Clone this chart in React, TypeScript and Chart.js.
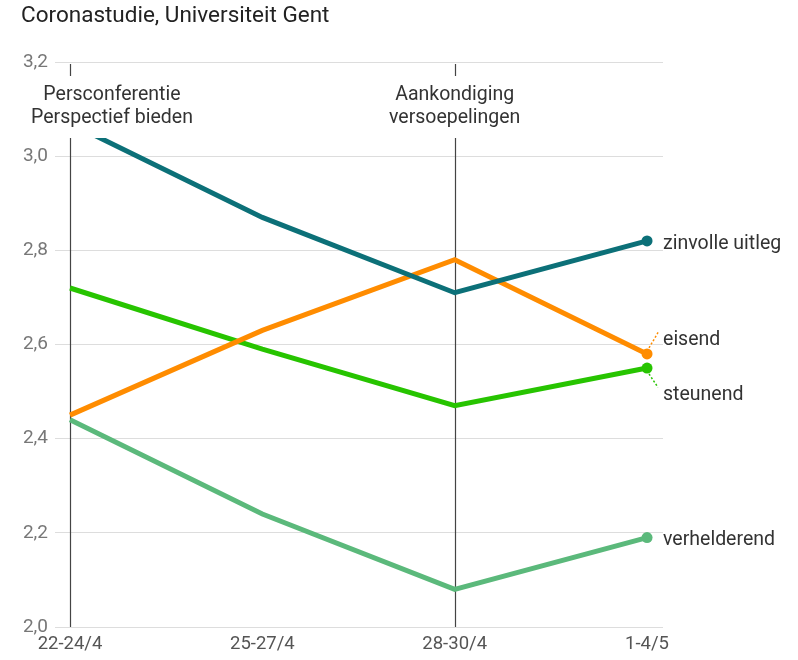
import React, { useEffect, useRef } from 'react';
import { Chart, registerables } from 'chart.js';

Chart.register(...registerables);

const chartTitle = 'Coronastudie, Universiteit Gent';
const categories = ['22-24/4', '25-27/4', '28-30/4', '1-4/5'];
const seriesNames = ['zinvolle uitleg', 'eisend', 'steunend', 'verhelderend'];
const zinvolleUitleg = [3.07, 2.87, 2.71, 2.82];
const eisend = [2.45, 2.63, 2.78, 2.58];
const steunend = [2.72, 2.59, 2.47, 2.55];
const verhelderend = [2.44, 2.24, 2.08, 2.19];
const yTickValues = [2.0, 2.2, 2.4, 2.6, 2.8, 3.0, 3.2];
const eventCategoryIndex = [0, 2];
const eventLabels = [
  ['Persconferentie', 'Perspectief bieden'],
  ['Aankondiging', 'versoepelingen'],
];

const seriesColors = ['#0c7078', '#ff8c00', '#27c400', '#5bb97b'];
const FONT = 'Roboto, "Noto Sans", sans-serif';

const overlayPlugin = {
  id: 'overlay',
  beforeDatasetsDraw(chart: any) {
    const { ctx, chartArea, scales } = chart;
    ctx.save();
    ctx.strokeStyle = '#444444';
    ctx.lineWidth = 1.2;
    eventCategoryIndex.forEach((ci) => {
      const x = Math.round(scales.x.getPixelForValue(ci)) + 0.5;
      ctx.beginPath();
      ctx.moveTo(x, chartArea.top + 2);
      ctx.lineTo(x, chartArea.bottom);
      ctx.stroke();
    });
    ctx.restore();
  },
  afterDatasetsDraw(chart: any) {
    const { ctx, chartArea, scales } = chart;
    ctx.save();
    // event annotations with white boxes
    ctx.font = `19.5px ${FONT}`;
    ctx.textAlign = 'center';
    ctx.textBaseline = 'middle';
    eventCategoryIndex.forEach((ci, k) => {
      const x = scales.x.getPixelForValue(ci);
      const lines = eventLabels[k];
      const w = Math.max(...lines.map((l) => ctx.measureText(l).width));
      let left = x - w / 2;
      if (left < 31) left = 31;
      const cx = left + w / 2;
      const boxTop = chartArea.top + 14;
      const boxH = 62;
      ctx.fillStyle = '#ffffff';
      ctx.fillRect(left - 4, boxTop, w + 8, boxH);
      ctx.fillStyle = '#333333';
      lines.forEach((l, i) => {
        ctx.fillText(l, cx, boxTop + 19 + i * 23);
      });
    });

    // end labels
    const items: any[] = chart.data.datasets.map((ds: any, i: number) => {
      const meta = chart.getDatasetMeta(i);
      const pt = meta.data[meta.data.length - 1];
      return { name: seriesNames[i], color: seriesColors[i], px: pt.x, py: pt.y, ly: pt.y };
    });
    const sorted = [...items].sort((a, b) => a.py - b.py);
    const minGap = 55;
    for (let i = 1; i < sorted.length; i++) {
      const a = sorted[i - 1];
      const b = sorted[i];
      if (b.ly - a.ly < minGap) {
        const mid = (a.ly + b.ly) / 2 + 4;
        a.ly = mid - minGap / 2;
        b.ly = mid + minGap / 2;
      }
    }
    ctx.font = `19.5px ${FONT}`;
    ctx.textAlign = 'left';
    ctx.textBaseline = 'middle';
    items.forEach((it) => {
      const shifted = Math.abs(it.ly - it.py) > 3;
      if (shifted) {
        const dir = it.ly > it.py ? 1 : -1;
        ctx.save();
        ctx.strokeStyle = it.color;
        ctx.lineWidth = 1.5;
        ctx.setLineDash([2, 2]);
        ctx.beginPath();
        ctx.moveTo(it.px + 2, it.py + 6 * dir);
        ctx.lineTo(it.px + 11, it.ly - 5);
        ctx.stroke();
        ctx.restore();
      }
      ctx.fillStyle = '#333333';
      ctx.fillText(it.name, it.px + 16, (shifted ? it.ly : it.py) + 3);
    });

    ctx.restore();
  },
  afterDraw(chart: any) {
    const { ctx } = chart;
    ctx.save();
    ctx.font = `22.5px ${FONT}`;
    ctx.fillStyle = '#222222';
    ctx.textAlign = 'left';
    ctx.textBaseline = 'middle';
    ctx.fillText(chartTitle, 21, 16);
    ctx.restore();
  },
};

export default function App() {
  const ref = useRef<HTMLCanvasElement | null>(null);

  useEffect(() => {
    if (!ref.current) return;
    const seriesData = [zinvolleUitleg, eisend, steunend, verhelderend];
    const chart = new Chart(ref.current, {
      type: 'line',
      data: {
        datasets: seriesData.map((vals, i) => ({
          label: seriesNames[i],
          data: vals.map((v, j) => ({ x: j, y: v })),
          borderColor: seriesColors[i],
          backgroundColor: seriesColors[i],
          borderWidth: 5,
          tension: 0,
          fill: false,
          pointRadius: vals.map((_, j) => (j === vals.length - 1 ? 5.5 : 0)),
          pointHoverRadius: 0,
          pointBorderWidth: 0,
          pointBackgroundColor: seriesColors[i],
        })),
      },
      options: {
        responsive: false,
        animation: false,
        devicePixelRatio: 1,
        layout: { padding: { top: 62, right: 135, bottom: 0, left: 20 } },
        plugins: {
          legend: { display: false },
          title: { display: false },
          tooltip: { enabled: false },
        },
        scales: {
          x: {
            type: 'linear',
            min: -0.078,
            max: 3.083,
            afterBuildTicks: (s: any) => {
              s.ticks = categories.map((_, i) => ({ value: i }));
            },
            afterFit: (s: any) => {
              s.height = 33;
            },
            grid: { display: false, drawTicks: false },
            border: { display: false },
            ticks: {
              autoSkip: false,
              maxRotation: 0,
              padding: 6,
              color: '#555555',
              font: { family: FONT, size: 18.5 },
              callback: (v: any) => categories[v as number] ?? '',
            },
          },
          y: {
            min: 2.0,
            max: 3.2,
            afterBuildTicks: (s: any) => {
              s.ticks = yTickValues.map((v) => ({ value: v }));
            },
            afterFit: (s: any) => {
              s.width = 35;
            },
            grid: { color: '#dddddd', lineWidth: 1, drawTicks: false },
            border: { display: false },
            ticks: {
              padding: 7,
              color: '#777777',
              font: { family: FONT, size: 19 },
              callback: (v: any) => Number(v).toFixed(1).replace('.', ','),
            },
          },
        },
      },
      plugins: [overlayPlugin],
    } as any);
    return () => chart.destroy();
  }, []);

  return (
    <div style={{ position: 'fixed', left: 0, top: 0, width: 798, height: 660, background: '#fff' }}>
      <canvas ref={ref} width={798} height={660} style={{ width: 798, height: 660, display: 'block' }} />
    </div>
  );
}
